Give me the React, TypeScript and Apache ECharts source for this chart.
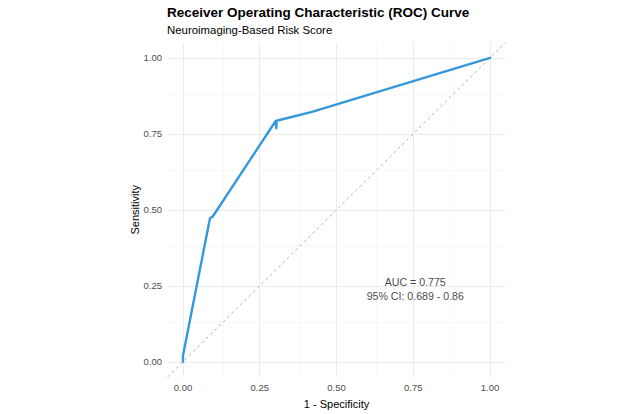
import React, { useEffect, useRef } from "react";
import * as echarts from "echarts";

const fpr = [0, 0, 0.088, 0.097, 0.302, 0.304, 0.305, 0.42, 1];
const tpr = [0, 0.02, 0.472, 0.478, 0.792, 0.768, 0.793, 0.822, 1];
const diagX = [-0.05, 1.05];
const majorGrid = [0, 0.25, 0.5, 0.75, 1];
const minorGrid = [0.125, 0.375, 0.625, 0.875];
const tickValues = [0, 0.25, 0.5, 0.75, 1];
const aucValue = 0.775;
const ciLow = 0.689;
const ciHigh = 0.86;
const aucPos = [0.75, 0.25];
const titleText = "Receiver Operating Characteristic (ROC) Curve";
const subtitleText = "Neuroimaging-Based Risk Score";
const xName = "1 - Specificity";
const yName = "Sensitivity";

const FONT = "Liberation Sans, Arial, sans-serif";

export default function App() {
  const ref = useRef<HTMLDivElement>(null);
  useEffect(() => {
    if (!ref.current) return;
    const chart = echarts.init(ref.current, null, { renderer: "svg" });
    const gridLines = (vals: number[], color: string, width: number) => {
      const d: any[] = [];
      vals.forEach((v) => {
        d.push({ xAxis: v, lineStyle: { color, width, type: "solid" } });
        d.push({ yAxis: v, lineStyle: { color, width, type: "solid" } });
      });
      return d;
    };
    const axisCommon = {
      type: "value",
      min: -0.05,
      max: 1.05,
      axisLine: { show: false },
      axisTick: { show: false },
      splitLine: { show: false },
      nameLocation: "middle",
      nameMoveOverlap: false,
      nameTextStyle: { color: "#000", fontSize: 11, fontFamily: FONT },
    };
    chart.setOption({
      animation: false,
      backgroundColor: "#fff",
      grid: { left: 167.6, right: 131.6, top: 42.6, bottom: 33.6 },
      graphic: [
        {
          type: "text",
          left: 167,
          top: 5,
          style: { text: titleText, font: `bold 13.5px ${FONT}`, fill: "#000" },
        },
        {
          type: "text",
          left: 167,
          top: 24,
          style: { text: subtitleText, font: `11.4px ${FONT}`, fill: "#000" },
        },
      ],
      xAxis: {
        ...axisCommon,
        name: xName,
        nameGap: 21,
        axisLabel: {
          customValues: tickValues,
          formatter: (v: number) => v.toFixed(2),
          color: "#4d4d4d",
          fontSize: 9.5,
          fontFamily: FONT,
          margin: 5,
        },
      },
      yAxis: {
        ...axisCommon,
        name: yName,
        nameGap: 27,
        axisLabel: {
          customValues: tickValues,
          formatter: (v: number) => v.toFixed(2),
          color: "#4d4d4d",
          fontSize: 9.5,
          fontFamily: FONT,
          margin: 5.5,
        },
      },
      series: [
        {
          type: "line",
          data: [],
          silent: true,
          z: 0,
          markLine: {
            silent: true,
            symbol: "none",
            z: 0,
            label: { show: false },
            data: [
              ...gridLines(minorGrid, "#f3f3f3", 0.6),
              ...gridLines(majorGrid, "#ebebeb", 1),
            ],
          },
        },
        {
          type: "line",
          data: diagX.map((v) => [v, v]),
          symbol: "none",
          z: 3,
          lineStyle: { color: "#b3b3b3", width: 1, type: [3, 3] },
          silent: true,
        },
        {
          type: "line",
          data: fpr.map((v, i) => [v, tpr[i]]),
          symbol: "none",
          z: 5,
          lineStyle: { color: "#3498db", width: 2.4, cap: "round", join: "round" },
          silent: true,
        },
        {
          type: "scatter",
          data: [aucPos],
          symbolSize: 0,
          silent: true,
          z: 6,
          label: {
            show: true,
            position: "inside",
            offset: [2, 3],
            formatter: `AUC = ${aucValue}\n95% CI: ${ciLow} - ${ciHigh}`,
            color: "#111",
            fontSize: 10.6,
            lineHeight: 14,
            fontFamily: FONT,
            align: "center",
          },
        },
      ],
    });
    return () => chart.dispose();
  }, []);
  return (
    <div
      ref={ref}
      style={{ position: "fixed", left: 0, top: 0, width: 637, height: 414 }}
    />
  );
}
